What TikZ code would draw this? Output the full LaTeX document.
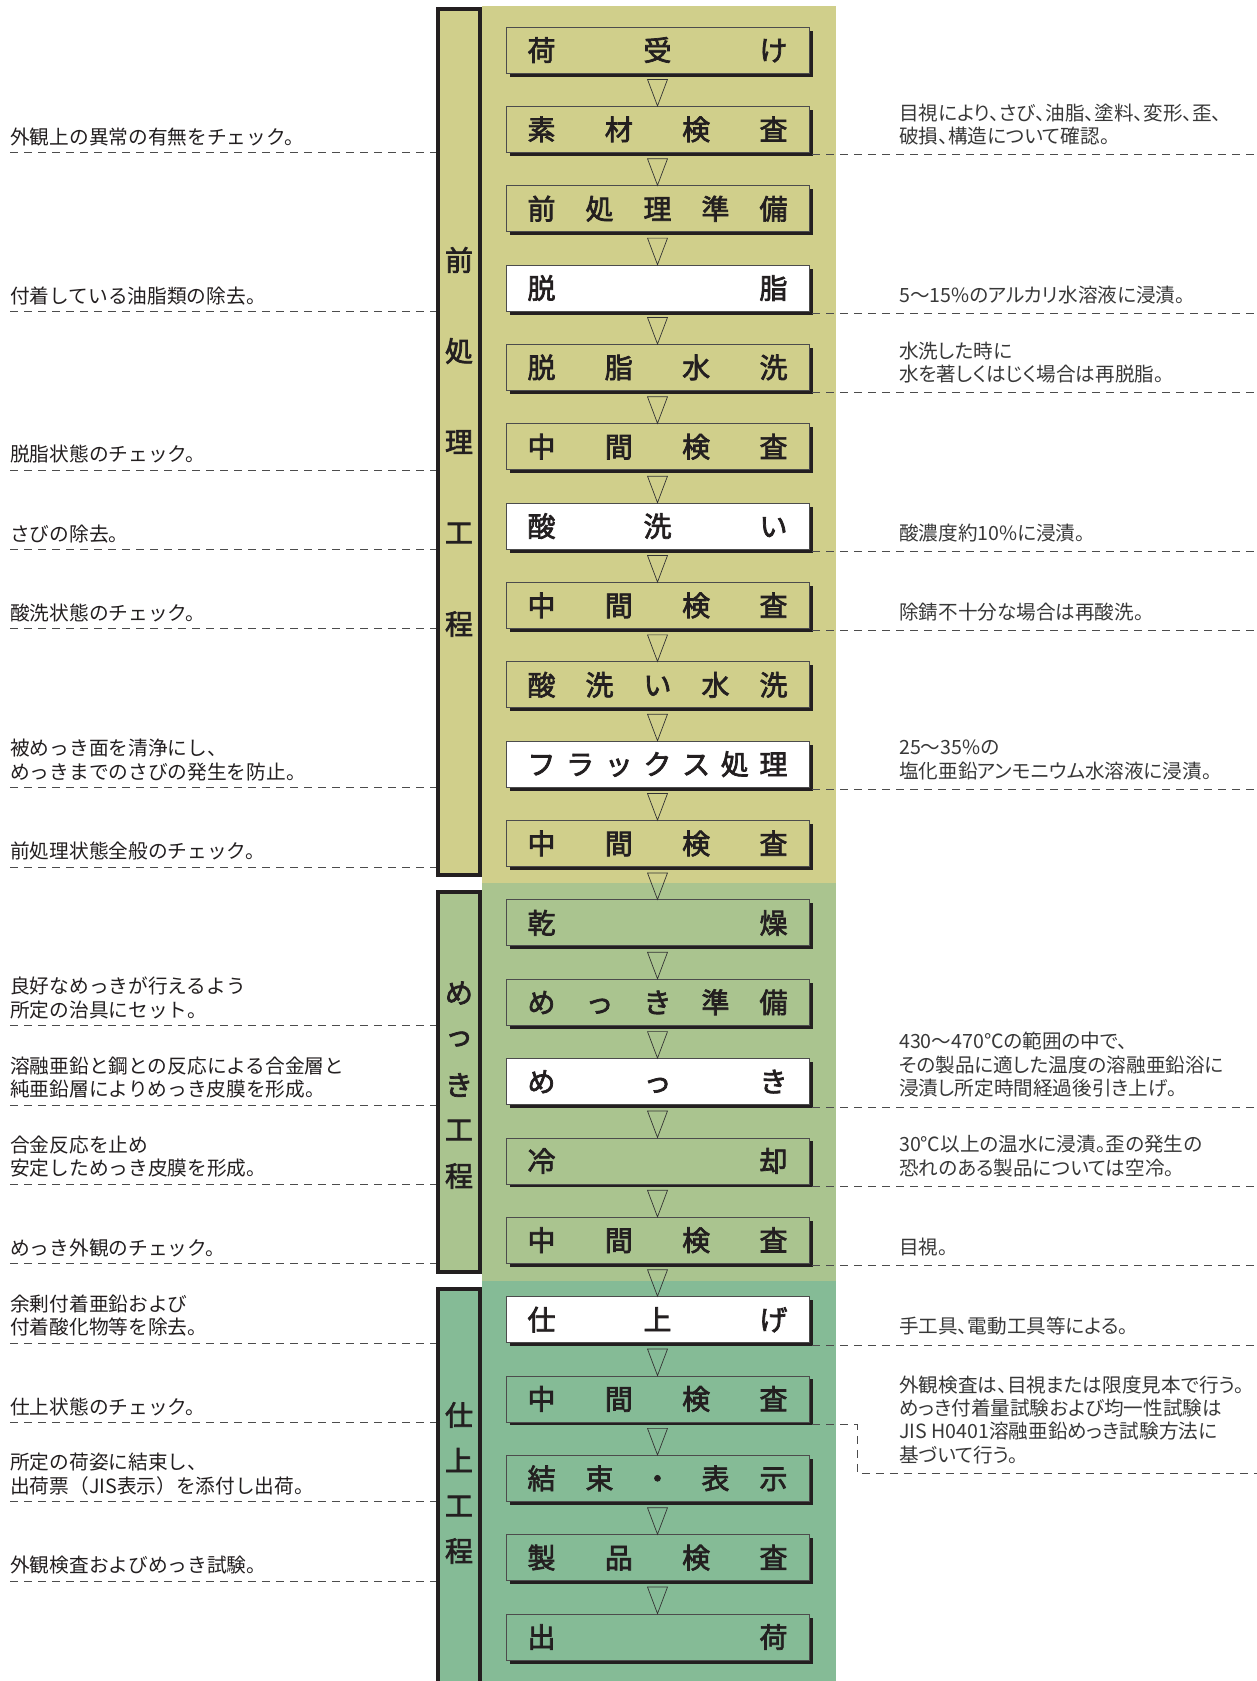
\documentclass[tikz,border=0pt]{standalone}
\usepackage{fontspec}
\newfontfamily\jp{Noto Sans CJK JP}
\newfontfamily\jpm{Noto Sans CJK JP}[FakeBold=2.5]
\newfontfamily\jpp{Noto Sans CJK JP}[RawFeature=+palt]
\usetikzlibrary{shadows}

\definecolor{bandpre}{HTML}{D0CF8B}
\definecolor{bandmek}{HTML}{AAC48F}
\definecolor{bandfin}{HTML}{85BB96}
\definecolor{ink}{HTML}{231F20}

\newcommand\boxtxt[1]{\makebox[260pt]{#1}}

\tikzset{
  stepbox/.style={draw=black!70, line width=0.8pt, minimum width=303pt,
    minimum height=46pt, inner sep=0pt, text=ink,
    font=\jpm\fontsize{28}{28}\selectfont,
    drop shadow={shadow xshift=3.5pt, shadow yshift=-3.5pt, fill=ink, opacity=1}},
  flowtri/.style={draw=black!80, line width=0.7pt},
  leader/.style={draw=black!70, line width=0.8pt, dash pattern=on 8pt off 6pt},
  leftnote/.style={anchor=south west, inner sep=0pt, align=left, text=ink,
    font=\jp\fontsize{19.7}{23.3}\selectfont},
  rightnote/.style={anchor=south west, inner sep=0pt, align=left, text=black!78,
    font=\jpp\fontsize{19.6}{23.3}\selectfont},
  phasebar/.style={draw=ink, line width=4pt},
  phasetxt/.style={inner sep=0pt, text=ink, font=\jpm\fontsize{28}{28}\selectfont}
}

\begin{document}
\begin{tikzpicture}[x=1pt,y=-1pt]
  \useasboundingbox (0,0) rectangle (1257,1681);
  \clip (0,0) rectangle (1257,1681);

  % Hintergrund der drei Abschnitte
  \fill[bandpre] (482,6) rectangle (836,883);
  \fill[bandmek] (482,883) rectangle (836,1281);
  \fill[bandfin] (482,1281) rectangle (836,1700);

  % Balken links
  \draw[phasebar, fill=bandpre] (438,9) rectangle (480,875);
  \draw[phasebar, fill=bandmek] (438,892) rectangle (480,1272);
  \draw[phasebar, fill=bandfin] (438,1289) rectangle (480,1700);
  \foreach \c/\y [count=\k] in {前/260,処/351,理/442,工/533,程/624}
    \node[phasetxt] (pa\k) at (459,\y) {\c};
  \foreach \c/\y [count=\k] in {め/993,っ/1039,き/1085,工/1130,程/1176}
    \node[phasetxt] (pb\k) at (459,\y) {\c};
  \foreach \c/\y [count=\k] in {仕/1415,上/1460,工/1506,程/1551}
    \node[phasetxt] (pc\k) at (459,\y) {\c};

  % Arbeitsschritte
  \foreach \lbl/\col [count=\i from 0] in {
      {荷\hfill 受\hfill け}/bandpre,
      {素\hfill 材\hfill 検\hfill 査}/bandpre,
      {前\hfill 処\hfill 理\hfill 準\hfill 備}/bandpre,
      {脱\hfill 脂}/white,
      {脱\hfill 脂\hfill 水\hfill 洗}/bandpre,
      {中\hfill 間\hfill 検\hfill 査}/bandpre,
      {酸\hfill 洗\hfill い}/white,
      {中\hfill 間\hfill 検\hfill 査}/bandpre,
      {酸\hfill 洗\hfill い\hfill 水\hfill 洗}/bandpre,
      {フ\hfill ラ\hfill ッ\hfill ク\hfill ス\hfill 処\hfill 理}/white,
      {中\hfill 間\hfill 検\hfill 査}/bandpre,
      {乾\hfill 燥}/bandmek,
      {め\hfill っ\hfill き\hfill 準\hfill 備}/bandmek,
      {め\hfill っ\hfill き}/white,
      {冷\hfill 却}/bandmek,
      {中\hfill 間\hfill 検\hfill 査}/bandmek,
      {仕\hfill 上\hfill げ}/white,
      {中\hfill 間\hfill 検\hfill 査}/bandfin,
      {結\hfill 束\hfill ・\hfill 表\hfill 示}/bandfin,
      {製\hfill 品\hfill 検\hfill 査}/bandfin,
      {出\hfill 荷}/bandfin}
    \node[stepbox, fill=\col] (b\i) at (657.5,{50+79.35*\i}) {\boxtxt{\lbl}};

  % Dreiecke zwischen den Schritten
  \foreach \i [count=\j from 1] in {0,...,19}
    \draw[flowtri] ([shift={(-10,6)}]b\i.south) -- ([shift={(10,6)}]b\i.south)
      -- (b\j.north) -- cycle;

  \coordinate (lft) at (10,0);
  \coordinate (barl) at (436,0);
  \coordinate (rx) at (899,0);
  \coordinate (rgt) at (1257,0);
  \coordinate (brk) at (857,1473);

  % linke Hinweise
  \foreach \i/\txt in {
      1/{外観上の異常の有無をチェック。},
      3/{付着している油脂類の除去。},
      5/{脱脂状態のチェック。},
      6/{さびの除去。},
      7/{酸洗状態のチェック。},
      9/{被めっき面を清浄にし、\\めっきまでのさびの発生を防止。},
      10/{前処理状態全般のチェック。},
      12/{良好なめっきが行えるよう\\所定の治具にセット。},
      13/{溶融亜鉛と鋼との反応による合金層と\\純亜鉛層によりめっき皮膜を形成。},
      14/{合金反応を止め\\安定しためっき皮膜を形成。},
      15/{めっき外観のチェック。},
      16/{余剰付着亜鉛および\\付着酸化物等を除去。},
      17/{仕上状態のチェック。},
      18/{所定の荷姿に結束し、\\出荷票（JIS表示）を添付し出荷。},
      19/{外観検査およびめっき試験。}}
  {
    \draw[leader] (lft |- b\i.south) -- (barl |- b\i.south);
    \node[leftnote, yshift=6.5pt] (L\i) at (lft |- b\i.south) {\txt};
  }

  % rechte Hinweise
  \foreach \i/\txt in {
      1/{目視により、さび、油脂、塗料、変形、歪、\\破損、構造について確認。},
      3/{5〜15\%のアルカリ水溶液に浸漬。},
      4/{水洗した時に\\水を著しくはじく場合は再脱脂。},
      6/{酸濃度約10\%に浸漬。},
      7/{除錆不十分な場合は再酸洗。},
      9/{25〜35\%の\\塩化亜鉛アンモニウム水溶液に浸漬。},
      13/{430〜470℃の範囲の中で、\\その製品に適した温度の溶融亜鉛浴に\\浸漬し所定時間経過後引き上げ。},
      14/{30℃以上の温水に浸漬。歪の発生の\\恐れのある製品については空冷。},
      15/{目視。},
      16/{手工具、電動工具等による。}}
  {
    \draw[leader] ([shift={(3,2)}]b\i.south east) -- ++(450,0);
    \node[rightnote, yshift=7.5pt] (R\i) at (rx |- b\i.south) {\txt};
  }
  \draw[leader] ([shift={(3,2)}]b17.south east) -| (brk) -- (rgt |- brk);
  \node[rightnote, yshift=9pt] (R17) at (rx |- brk)
    {外観検査は、目視または限度見本で行う。\\めっき付着量試験および均一性試験は\\JIS H0401溶融亜鉛めっき試験方法に\\基づいて行う。};
\end{tikzpicture}
\end{document}
